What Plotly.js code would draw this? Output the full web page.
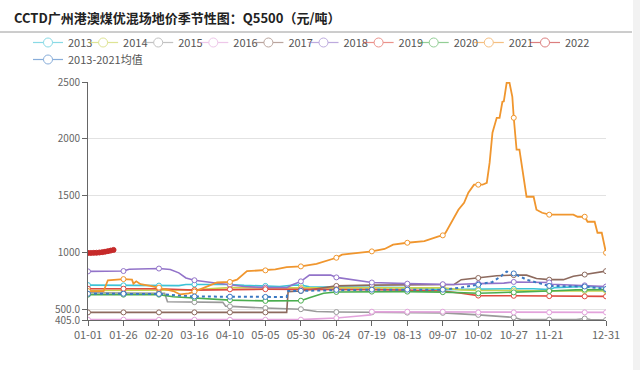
<!DOCTYPE html>
<html><head><meta charset="utf-8">
<script src="https://cdn.plot.ly/plotly-3.0.1.min.js"></script>
<style>html,body{margin:0;padding:0;background:#fff}#chart{width:640px;height:370px}</style>
</head><body><div id="chart"></div>
<script>
// ---- data (MM-DD dates on a leap-year calendar, values in 元/吨) ----
const tickDates  = ['01-01','01-26','02-20','03-16','04-10','05-05','05-30','06-24','07-19','08-13','09-07','10-02','10-27','11-21','12-31'];
const markerDates = ['01-01','01-26','02-20','03-16','04-10','05-05','05-30','06-24','07-19','08-13','09-07','10-02','10-27','11-21','12-16','12-31'];
const yTickVals = [405, 500, 1000, 1500, 2000, 2500];
const yTickText = ['405.0', '500.0', '1000', '1500', '2000', '2500'];

const d2013 = ['01-01','01-26','02-20','03-05','03-10','03-16','04-10','04-20','05-05','05-15','05-25','05-30','06-05','06-24','07-19','08-13','09-07','09-20','10-02','10-27','11-10','11-21','11-25','12-16','12-31'];
const v2013 = [712,710,708,708,718,718,718,710,705,700,712,712,698,695,690,690,672,675,680,680,680,672,690,700,695];

const d2014 = ['01-01','01-26','02-20','03-16','04-01','04-10','05-05','05-30','06-24','07-19','08-13','09-07','09-20','10-02','10-27','11-10','11-21','12-16','12-31'];
const v2014 = [665,665,665,670,685,690,688,690,690,688,688,688,670,665,665,660,660,660,660];

const d2015 = ['01-01','01-26','02-20','02-24','02-26','03-16','04-05','04-07','04-10','04-20','05-05','05-30','06-10','06-24','07-19','08-13','09-07','10-02','10-27','11-01','11-21','12-10','12-16','12-20','12-31'];
const v2015 = [645,645,643,640,565,562,560,527,525,520,510,500,480,475,472,470,468,450,428,410,408,408,418,410,405];

const d2016 = ['01-01','01-26','02-20','03-16','04-10','05-05','05-30','06-10','06-24','07-10','07-18','07-19','08-13','09-07','10-02','10-27','11-21','12-16','12-31'];
const v2016 = [408,408,407,407,407,407,408,415,422,440,450,478,478,478,472,472,472,472,472];

const d2017 = ['01-01','01-26','02-20','03-16','04-10','05-05','05-20','05-21','05-30','06-10','06-24','07-19','08-13','09-07','09-15','09-20','10-02','10-15','10-27','11-05','11-12','11-21','12-01','12-08','12-16','12-25','12-31'];
const v2017 = [472,472,472,472,472,472,472,655,660,680,705,712,712,715,718,760,775,795,800,800,770,760,760,790,805,825,835];

const d2018 = ['01-01','01-26','01-30','02-20','02-28','03-05','03-10','03-16','03-28','04-10','04-20','05-05','05-20','05-24','05-30','06-05','06-20','06-24','07-10','07-19','08-13','09-07','09-15','10-02','10-20','10-27','11-10','11-21','11-23','12-16','12-31'];
const v2018 = [833,836,852,858,850,820,775,755,735,716,700,690,690,715,745,800,800,780,750,735,725,720,718,725,730,740,740,735,720,710,700];

const d2019 = ['01-01','01-26','02-20','03-16','04-10','05-05','05-30','06-24','07-19','08-13','09-07','09-20','10-02','10-27','11-21','12-16','12-31'];
const v2019 = [680,680,680,668,675,676,675,675,672,668,660,640,620,618,615,613,613];

const d2020 = ['01-01','01-26','02-20','03-01','03-16','04-10','05-05','05-30','06-05','06-15','06-24','07-19','08-13','09-07','10-02','10-15','10-27','11-21','12-10','12-16','12-31'];
const v2020 = [628,628,628,610,600,580,573,575,600,640,652,655,655,650,640,645,648,660,670,672,672];

const d2021 = ['01-01','01-12','01-15','01-26','02-01','02-02','02-04','02-07','02-14','02-20','03-01','03-06','03-12','03-16','03-25','04-01','04-10','04-15','04-22','05-05','05-12','05-20','05-30','06-10','06-20','06-24','06-28','07-19','07-28','08-03','08-13','08-25','09-04','09-07','09-09','09-13','09-18','09-22','09-25','09-29','10-02','10-05','10-08','10-10','10-12','10-15','10-17','10-19','10-20','10-22','10-24','10-26','10-27','10-29','10-31','11-03','11-05','11-10','11-12','11-16','11-21','12-08','12-11','12-16','12-18','12-23','12-25','12-28','12-31'];
const v2021 = [660,660,755,765,760,725,745,720,705,690,660,630,640,655,700,735,740,760,835,842,850,870,877,900,935,953,980,1009,1030,1068,1085,1100,1141,1150,1173,1261,1376,1437,1525,1596,1596,1596,1613,1790,2054,2185,2185,2326,2330,2493,2493,2370,2185,1904,1904,1666,1490,1490,1376,1349,1332,1332,1314,1314,1270,1270,1173,1173,997];

const d2022 = ['01-01','01-03','01-05','01-07','01-09','01-11','01-13','01-15','01-17','01-19'];
const v2022 = [995,995,996,997,999,1002,1006,1011,1016,1022];

const dAvg = ['01-01','01-26','02-20','03-05','03-16','04-10','05-05','05-20','05-21','05-30','06-24','07-19','08-13','09-07','09-20','10-02','10-12','10-18','10-22','10-27','11-05','11-15','11-21','12-16','12-31'];
const vAvg = [636,636,634,620,612,610,608,608,660,662,670,672,672,672,690,715,740,790,832,815,760,725,705,700,678];

// ---- styling ----
const YEAR = '2020-';
const toX = a => a.map(d => YEAR + d);
const series = [
  {name:'2013', d:d2013, v:v2013, color:'#3cc3d6'},
  {name:'2014', d:d2014, v:v2014, color:'#c9d34e'},
  {name:'2015', d:d2015, v:v2015, color:'#9a9a9a'},
  {name:'2016', d:d2016, v:v2016, color:'#e3a3dc'},
  {name:'2017', d:d2017, v:v2017, color:'#8d6a5e'},
  {name:'2018', d:d2018, v:v2018, color:'#9273c9'},
  {name:'2019', d:d2019, v:v2019, color:'#df4a3f'},
  {name:'2020', d:d2020, v:v2020, color:'#4aae4f'},
  {name:'2021', d:d2021, v:v2021, color:'#f0962e', width:1.8},
  {name:'2022', d:d2022, v:v2022, color:'#c62a2a', width:3, dense:true, legend:'legend3'},
  {name:'2013-2021均值', d:dAvg, v:vAvg, color:'#3a78c2', dash:'dot', width:2, legend:'legend2'}
];

const traces = [];
series.forEach(s => {
  traces.push({type:'scatter', mode:'lines', x:toX(s.d), y:s.v, name:s.name, legendgroup:s.name,
    showlegend:false, hoverinfo:'skip',
    line:{color:s.color, width:s.width || 1.6, dash:s.dash || 'solid'}});
  const mx = [], my = [];
  s.d.forEach((d, i) => { if (s.dense || markerDates.includes(d)) { mx.push(YEAR + d); my.push(s.v[i]); } });
  traces.push({type:'scatter', mode:'markers', x:mx, y:my, legendgroup:s.name, showlegend:false, hoverinfo:'skip',
    marker:{symbol:'circle', size:5, color:s.dense ? s.color : '#ffffff', line:{color:s.color, width:1}}});
  traces.push({type:'scatter', mode:'lines+markers', x:[null], y:[null], name:s.name, legendgroup:s.name,
    legend:s.legend || 'legend', opacity:0.6,
    line:{color:s.color, width:1.2},
    marker:{symbol:'circle', size:9, color:'#ffffff', line:{color:s.color, width:1}}});
});
// invisible spacer entry so the last visible item of the first legend row is not clipped
traces.push({type:'scatter', mode:'lines', x:[null], y:[null], name:' ', legend:'legend', opacity:0,
  line:{color:'rgba(0,0,0,0)', width:0}, legendgroup:'spacer'});

const px0 = 88, pw = 518, py0 = 320, ph = 238;
const legendBase = {orientation:'h', xref:'paper', yref:'paper', xanchor:'left', yanchor:'top',
  font:{size:11, color:'#555'}, bgcolor:'rgba(0,0,0,0)', itemclick:false};
const layout = {
  width:640, height:370,
  margin:{l:88, r:34, t:82, b:50, autoexpand:false},
  paper_bgcolor:'#ffffff', plot_bgcolor:'#ffffff',
  font:{family:'"Noto Sans CJK SC", "Noto Sans", sans-serif', size:11, color:'#666'},
  title:{text:'<b>CCTD广州港澳煤优混场地价季节性图：Q5500（元/吨）</b>', x:14/640, xref:'container', xanchor:'left',
    y:1-18/370, yref:'container', yanchor:'middle',
    font:{family:'"Noto Sans CJK SC", sans-serif', size:13, color:'#222'}},
  xaxis:{type:'date', range:[YEAR+'01-01', YEAR+'12-31'], tickvals:toX(tickDates), ticktext:tickDates,
    showgrid:false, zeroline:false, showline:true, linecolor:'#666', linewidth:1,
    ticks:'outside', ticklen:5, tickcolor:'#666', tickfont:{size:11, color:'#666'}, fixedrange:true},
  yaxis:{range:[405, 2500], tickvals:yTickVals, ticktext:yTickText, showgrid:true, gridcolor:'#e2e2e2',
    zeroline:false, showline:true, linecolor:'#666', linewidth:1,
    ticks:'outside', ticklen:5, tickcolor:'#666', tickfont:{size:10, color:'#666'}, fixedrange:true},
  legend:Object.assign({}, legendBase, {x:(28-px0)/pw, y:(py0-28)/ph, entrywidth:10.1, entrywidthmode:'pixels'}),
  legend3:Object.assign({}, legendBase, {x:(525-px0)/pw, y:(py0-28)/ph}),
  legend2:Object.assign({}, legendBase, {x:(28-px0)/pw, y:(py0-45)/ph}),
  shapes:[
    {type:'line', xref:'paper', yref:'paper', x0:(0-px0)/pw, x1:(632-px0)/pw, y0:(py0-32)/ph, y1:(py0-32)/ph,
      line:{color:'#9a9a9a', width:1}},
    {type:'rect', xref:'paper', yref:'paper', x0:(633-px0)/pw, x1:(641-px0)/pw, y0:-0.3, y1:1.4,
      fillcolor:'#f2f2f2', line:{width:0}, layer:'below'}
  ],
  showlegend:true, hovermode:false
};
Plotly.newPlot('chart', traces, layout, {displayModeBar:false, staticPlot:true});
</script>
</body></html>
